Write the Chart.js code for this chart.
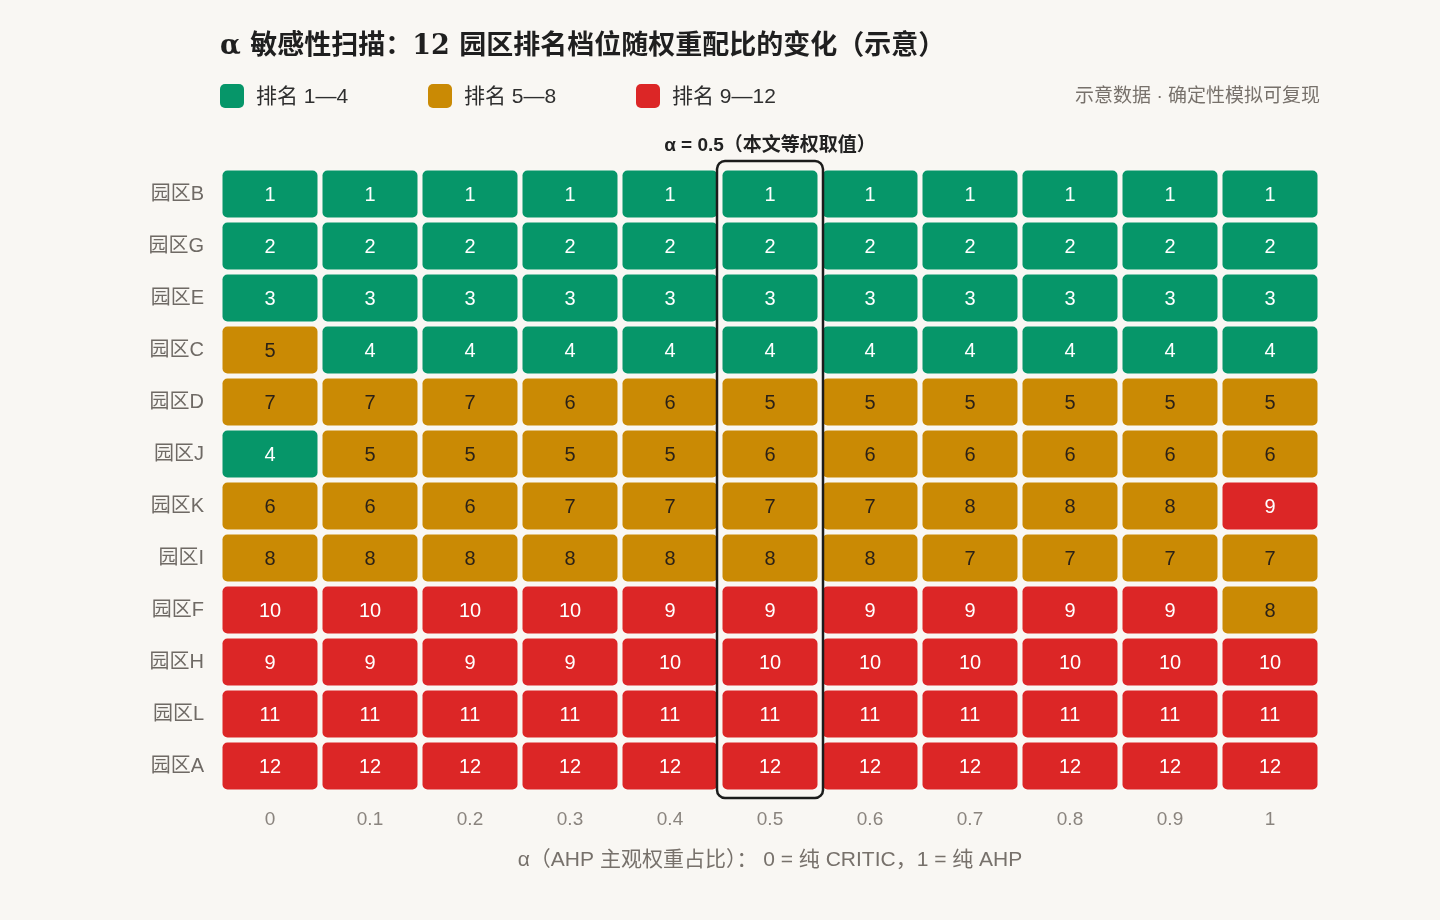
<!DOCTYPE html>
<html lang="zh">
<head>
<meta charset="utf-8">
<title>α 敏感性扫描</title>
<script src="https://cdn.jsdelivr.net/npm/chart.js@4.4.1/dist/chart.umd.min.js"></script>
<style>
  html, body { margin: 0; padding: 0; background: #f9f7f3; }
  #wrap { width: 1440px; height: 920px; position: relative; }
</style>
</head>
<body>
<div id="wrap"><canvas id="rankChart"></canvas></div>
<script>
// Data
const alphaLabels = ["0", "0.1", "0.2", "0.3", "0.4", "0.5", "0.6", "0.7", "0.8", "0.9", "1"];
const parks = ["园区B", "园区G", "园区E", "园区C", "园区D", "园区J", "园区K", "园区I", "园区F", "园区H", "园区L", "园区A"];

const rankB = [1, 1, 1, 1, 1, 1, 1, 1, 1, 1, 1];
const rankG = [2, 2, 2, 2, 2, 2, 2, 2, 2, 2, 2];
const rankE = [3, 3, 3, 3, 3, 3, 3, 3, 3, 3, 3];
const rankC = [5, 4, 4, 4, 4, 4, 4, 4, 4, 4, 4];
const rankD = [7, 7, 7, 6, 6, 5, 5, 5, 5, 5, 5];
const rankJ = [4, 5, 5, 5, 5, 6, 6, 6, 6, 6, 6];
const rankK = [6, 6, 6, 7, 7, 7, 7, 8, 8, 8, 9];
const rankI = [8, 8, 8, 8, 8, 8, 8, 7, 7, 7, 7];
const rankF = [10, 10, 10, 10, 9, 9, 9, 9, 9, 9, 8];
const rankH = [9, 9, 9, 9, 10, 10, 10, 10, 10, 10, 10];
const rankL = [11, 11, 11, 11, 11, 11, 11, 11, 11, 11, 11];
const rankA = [12, 12, 12, 12, 12, 12, 12, 12, 12, 12, 12];
const ranks = [rankB, rankG, rankE, rankC, rankD, rankJ, rankK, rankI, rankF, rankH, rankL, rankA];

const tierNames = ["排名 1—4", "排名 5—8", "排名 9—12"];
const highlightIndex = 5; // α = 0.5

const TIER_COLORS = ["#069669", "#ca8a04", "#dc2626"];
const FONT = '"Liberation Sans", "Noto Sans CJK SC", sans-serif';
const GRAY = "#77716b";

function tierOf(rank) {
  if (rank <= 4) return 0;
  if (rank <= 8) return 1;
  return 2;
}

// one floating-bar dataset per park, each bar spans its row band
const datasets = parks.map((name, r) => ({
  label: name,
  data: alphaLabels.map(() => [r - 0.47, r + 0.47]),
  backgroundColor: ctx => TIER_COLORS[tierOf(ranks[ctx.datasetIndex][ctx.dataIndex])],
  borderColor: "rgba(255,255,255,0.45)",
  borderWidth: 1,
  borderRadius: 6,
  borderSkipped: false,
  grouped: false,
  barPercentage: 0.97,
  categoryPercentage: 1
}));

const decorPlugin = {
  id: "decor",
  beforeDraw(chart) {
    const c = chart.ctx;
    c.save();
    c.fillStyle = "#f9f7f3";
    c.fillRect(0, 0, chart.width, chart.height);
    c.restore();
  },
  afterDatasetsDraw(chart) {
    const c = chart.ctx;
    const area = chart.chartArea;
    c.save();
    // cell labels
    c.font = "20px " + FONT;
    c.textAlign = "center";
    c.textBaseline = "middle";
    chart.data.datasets.forEach((ds, di) => {
      chart.getDatasetMeta(di).data.forEach((bar, i) => {
        const rank = ranks[di][i];
        const p = bar.getCenterPoint();
        c.fillStyle = tierOf(rank) === 1 ? "#2b2117" : "#ffffff";
        c.fillText(String(rank), p.x, p.y + 1);
      });
    });

    // highlight frame around α = 0.5
    const xs = chart.scales.x;
    const cx = xs.getPixelForValue(highlightIndex);
    const half = 53;
    c.strokeStyle = "#1c1c1c";
    c.lineWidth = 2.5;
    c.beginPath();
    c.roundRect(cx - half, area.top - 7, half * 2, area.bottom - area.top + 13, 8);
    c.stroke();

    c.fillStyle = "#222";
    c.font = "bold 19px " + FONT;
    c.textBaseline = "middle";
    c.fillText("α = 0.5（本文等权取值）", cx, 146);

    // title
    c.textAlign = "left";
    c.fillStyle = "#1f1f1f";
    c.font = 'bold 27px "DejaVu Serif", "Noto Sans CJK SC", serif';
    c.fillText("α 敏感性扫描：12 园区排名档位随权重配比的变化（示意）", 220, 47);

    // legend
    c.font = "21px " + FONT;
    tierNames.forEach((t, k) => {
      const x0 = 220 + k * 208;
      c.fillStyle = TIER_COLORS[k];
      c.beginPath();
      c.roundRect(x0, 84, 24, 24, 5);
      c.fill();
      c.fillStyle = "#2f2f2f";
      c.fillText(t, x0 + 36, 97);
    });

    // note
    c.textAlign = "right";
    c.fillStyle = GRAY;
    c.font = "19px " + FONT;
    c.fillText("示意数据 · 确定性模拟可复现", 1320, 97);

    // x axis title
    c.textAlign = "center";
    c.font = "21px " + FONT;
    c.fillText("α（AHP 主观权重占比）： 0 = 纯 CRITIC，1 = 纯 AHP", (area.left + area.right) / 2, 860);
    c.restore();
  }
};

new Chart(document.getElementById("rankChart"), {
  type: "bar",
  data: { labels: alphaLabels, datasets },
  options: {
    responsive: true,
    maintainAspectRatio: false,
    animation: false,
    layout: { padding: { top: 168, right: 120, left: 0, bottom: 0 } },
    plugins: {
      legend: { display: false },
      tooltip: { enabled: false },
      title: { display: false }
    },
    scales: {
      x: {
        type: "category",
        offset: true,
        grid: { display: false, drawTicks: false },
        border: { display: false },
        ticks: { color: "#8a847e", font: { size: 19, family: FONT }, padding: 16 },
        afterFit: s => { s.height = 128; }
      },
      y: {
        type: "linear",
        min: -0.5,
        max: 11.5,
        reverse: true,
        grid: { display: false, drawTicks: false },
        border: { display: false },
        afterBuildTicks: s => { s.ticks = parks.map((_, i) => ({ value: i })); },
        ticks: {
          color: "#6f6a65",
          font: { size: 20, family: FONT },
          padding: 16,
          autoSkip: false,
          callback: v => parks[v] || ""
        },
        afterFit: s => { s.width = 220; }
      }
    }
  },
  plugins: [decorPlugin]
});
</script>
</body>
</html>
